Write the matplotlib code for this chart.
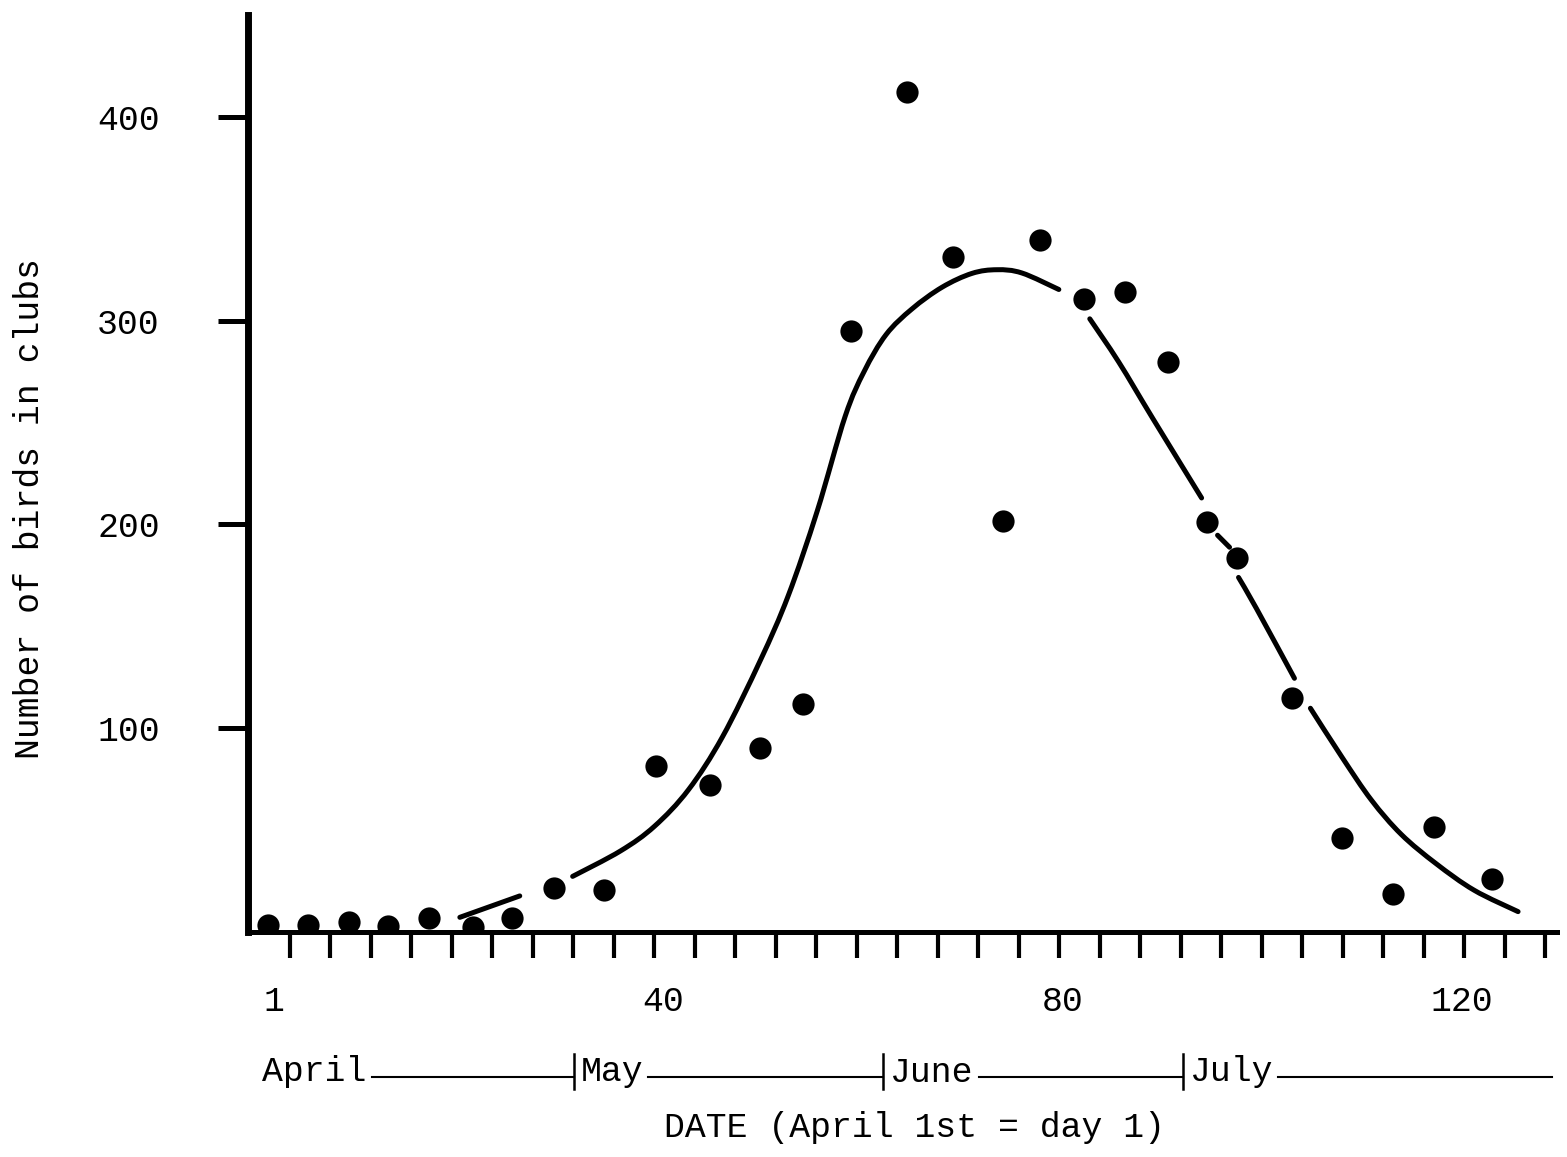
import matplotlib
matplotlib.use("Agg")
import matplotlib.pyplot as plt
import matplotlib.transforms as mtrans
from matplotlib.path import Path
from matplotlib.patches import PathPatch
import numpy as np

# ---------------- data ----------------
days = [0.4, 4.4, 8.5, 12.4, 16.5, 20.9, 24.8, 29.0, 34.0, 39.2, 44.7, 49.7,
        54.0, 58.8, 64.4, 69.0, 74.0, 77.7, 82.1, 86.2, 90.5, 94.4, 97.4,
        103.0, 108.0, 113.1, 117.2, 123.0]
birds = [3.3, 3.6, 4.9, 2.7, 6.9, 2.3, 7.0, 21.5, 20.7, 81.3, 72.2, 90.1,
         111.9, 294.8, 412.4, 331.1, 201.7, 339.5, 310.8, 314.0, 279.9, 201.1,
         183.3, 114.8, 46.2, 18.5, 51.6, 25.8]

# fitted curve, as drawn (the pen is lifted near some dots)
curve_days = [19.6, 25.6,
              30.9, 35.7, 39.1, 42.5, 45.9, 49.7, 52.5, 55.4, 58.2, 60.1,
              62.3, 64.9, 67.9, 70.9, 73.4, 75.9, 79.6,
              82.7, 85.6, 89.0, 93.9,
              95.5, 96.7,
              97.6, 99.4, 103.2,
              104.8, 108.0, 110.9, 113.9, 117.4, 121.2, 125.6]
curve_birds = [7.2, 17.7,
               27.3, 39.8, 51.9, 69.8, 95.7, 133.3, 165.1, 206.6, 253.1,
               275.1, 293.2, 305.8, 316.4, 323.2, 325.0, 323.4, 315.3,
               300.9, 279.7, 252.1, 213.0,
               194.7, 188.8,
               174.0, 158.7, 124.5,
               109.8, 85.5, 64.8, 47.9, 33.5, 20.5, 10.0]
curve_piece_starts = [0, 2, 19, 23, 25, 28]

y_ticks = [100, 200, 300, 400]
x_ticks = [1, 40, 80, 120]
x_tick_labels = ["1", "40", "80", "120"]
months = ["April", "May", "June", "July"]
month_start = [1, 31, 62, 92]

ylabel = "Number of birds in clubs"
xlabel = "DATE (April 1st = day 1)"

# ---------------- figure ----------------
plt.rcParams["font.family"] = ["Liberation Mono", "DejaVu Sans Mono"]
W, H = 1567, 1157
fig = plt.figure(figsize=(W / 100, H / 100), dpi=100)
fig.patch.set_facecolor("white")
ax = fig.add_axes([248 / W, (H - 932) / H, (1557 - 248) / W, (932 - 15) / H])
ax.set_xlim(-1.62, 129.5)
ax.set_ylim(0, 450)
ax.set_facecolor("white")


def smooth_path(xs, ys):
    P = np.column_stack([xs, ys]).astype(float)
    verts = [P[0]]
    codes = [Path.MOVETO]
    n = len(P)
    for i in range(n - 1):
        p0 = P[i - 1] if i > 0 else P[i]
        p1 = P[i]
        p2 = P[i + 1]
        p3 = P[i + 2] if i + 2 < n else P[i + 1]
        c1 = p1 + (p2 - p0) / 6.0
        c2 = p2 - (p3 - p1) / 6.0
        verts += [c1, c2, p2]
        codes += [Path.CURVE4] * 3
    return Path(verts, codes)


bounds = curve_piece_starts + [len(curve_days)]
for a, b in zip(bounds[:-1], bounds[1:]):
    path = smooth_path(curve_days[a:b], curve_birds[a:b])
    ax.add_patch(PathPatch(path, fill=False, lw=3.6, edgecolor="black",
                           capstyle="round", joinstyle="round", zorder=2))

ax.plot(days, birds, "o", ms=16, mfc="black", mec="black", mew=0, zorder=3)

for s in ["top", "right"]:
    ax.spines[s].set_visible(False)
ax.spines["left"].set_linewidth(5)
ax.spines["bottom"].set_linewidth(3.6)
ax.spines["left"].set_zorder(4)
ax.spines["bottom"].set_zorder(4)

ax.set_yticks(y_ticks)
ax.set_yticklabels([str(v) for v in y_ticks])
ax.tick_params(axis="y", length=21.6, width=3.6, pad=42, labelsize=25,
               direction="out")

ax.set_xticks(x_ticks)
ax.set_xticklabels(x_tick_labels)
ax.tick_params(axis="x", which="major", length=0, pad=38, labelsize=25)
minor_days = np.linspace(2.58, 128.3, 32)
ax.set_xticks(minor_days, minor=True)
ax.tick_params(axis="x", which="minor", length=18.7, width=3, direction="out")

fig.text(30 / W, 1 - 508 / H, ylabel, rotation=90, ha="center", va="center",
         fontsize=25)
fig.text(915 / W, 1 - 1128 / H, xlabel, ha="center", va="center", fontsize=25)

# ---------------- month bar ----------------
trans = mtrans.blended_transform_factory(ax.transData, mtrans.IdentityTransform())
y_row = H - 1072
texts = []
for i, (m, b) in enumerate(zip(months, month_start)):
    if i == 0:
        t = ax.annotate(m, xy=(b, y_row), xycoords=trans, xytext=(-12, 0),
                        textcoords="offset pixels", va="center", ha="left",
                        fontsize=25, annotation_clip=False)
    else:
        ax.plot([b, b], [y_row - 17, y_row + 18], transform=trans,
                color="black", lw=1.8, clip_on=False)
        t = ax.annotate(m, xy=(b, y_row), xycoords=trans, xytext=(7, 0),
                        textcoords="offset pixels", va="center", ha="left",
                        fontsize=25, annotation_clip=False)
    texts.append(t)

fig.canvas.draw()
renderer = fig.canvas.get_renderer()
ends = month_start[1:] + [129.0]
for t, e in zip(texts, ends):
    bb = t.get_window_extent(renderer)
    x0 = ax.transData.inverted().transform((bb.x1 + 5, 0))[0]
    ax.plot([x0, e], [y_row - 5, y_row - 5], transform=trans, color="black",
            lw=1.5, clip_on=False)

fig.savefig("out.png", dpi=100)
